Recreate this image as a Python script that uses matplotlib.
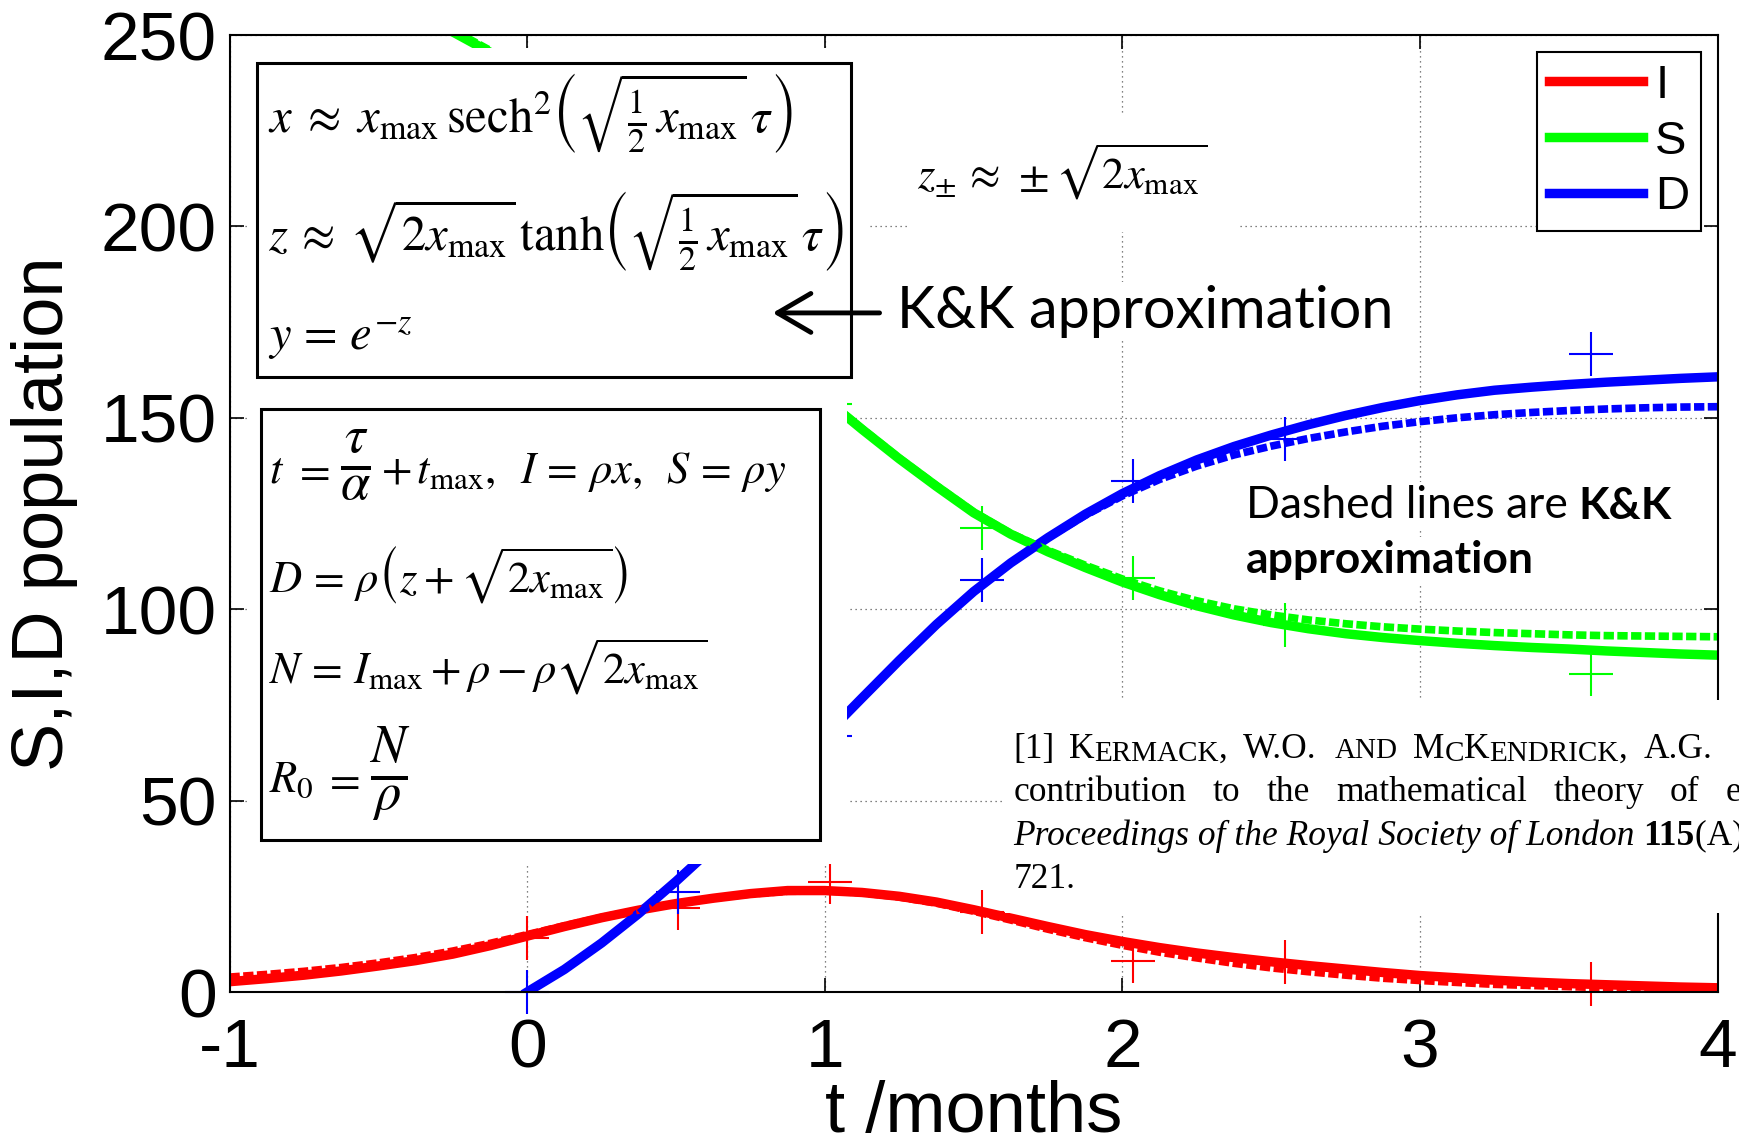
import matplotlib
matplotlib.use('Agg')
import matplotlib.pyplot as plt
from matplotlib.patches import Rectangle
from matplotlib.offsetbox import HPacker, TextArea, AnnotationBbox

plt.rcParams['mathtext.fontset'] = 'stix'
plt.rcParams['axes.unicode_minus'] = False

# time axis in months (model curves)
t = [-1.0, -0.875, -0.75, -0.625, -0.5, -0.375, -0.25, -0.125,
     0.0, 0.125, 0.25, 0.375, 0.5, 0.625, 0.75, 0.875,
     1.0, 1.125, 1.25, 1.375, 1.5, 1.625, 1.75, 1.875,
     2.0, 2.125, 2.25, 2.375, 2.5, 2.625, 2.75, 2.875,
     3.0, 3.125, 3.25, 3.375, 3.5, 3.625, 3.75, 3.875, 4.0]
# infected: numerical solution and K&K approximation
I_model = [2.7, 3.5, 4.4, 5.5, 6.8, 8.2, 9.9, 12.1,
           14.6, 17.1, 19.4, 21.4, 23.1, 24.5, 25.7, 26.5,
           26.5, 26.0, 25.0, 23.5, 21.5, 19.3, 17.1, 15.0,
           13.2, 11.6, 10.2, 9.0, 7.9, 6.9, 6.0, 5.1,
           4.3, 3.7, 3.1, 2.6, 2.2, 1.9, 1.6, 1.3, 1.1]
I_kk = [3.9, 4.6, 5.4, 6.4, 7.6, 9.0, 10.7, 12.7,
        15.0, 17.3, 19.5, 21.4, 23.1, 24.5, 25.6, 26.3,
        26.4, 25.9, 24.8, 23.2, 21.1, 18.8, 16.4, 14.2,
        12.2, 10.4, 8.9, 7.5, 6.3, 5.3, 4.4, 3.6,
        3.0, 2.5, 2.0, 1.7, 1.4, 1.1, 0.9, 0.7, 0.6]
# susceptible
S_model = [268, 266.5, 264.5, 262, 259, 255.5, 250.8, 245.5,
           238.5, 230, 220.5, 210, 199, 187.5, 176, 165,
           155.0, 147.0, 139.3, 132.1, 125.2, 119.6, 115.0, 110.9,
           107.1, 103.8, 100.9, 98.5, 96.5, 94.9, 93.6, 92.6,
           91.8, 91.1, 90.5, 90.0, 89.6, 89.1, 88.7, 88.3, 88.0]
S_kk = [268.5, 267, 265, 262.5, 259.5, 256, 251.3, 246,
        239, 230.5, 221, 210.5, 199.5, 188, 176.5, 165.3,
        155.2, 147.2, 139.5, 132.3, 125.4, 119.8, 115.4, 111.5,
        107.9, 104.8, 102.2, 100.1, 98.5, 97.2, 96.2, 95.4,
        94.8, 94.3, 93.9, 93.6, 93.3, 93.1, 93.0, 92.9, 92.8]
# dead, counted from t = 0
t_d = [0.0, 0.125, 0.25, 0.375, 0.5, 0.625, 0.75, 0.875,
       1.0, 1.125, 1.25, 1.375, 1.5, 1.625, 1.75, 1.875,
       2.0, 2.125, 2.25, 2.375, 2.5, 2.625, 2.75, 2.875,
       3.0, 3.125, 3.25, 3.375, 3.5, 3.625, 3.75, 3.875, 4.0]
D_model = [0, 5.9, 12.8, 20.5, 28.9, 37.8, 47.2, 57.0,
           66.9, 76.8, 86.6, 96.0, 104.6, 112.1, 118.7, 124.8,
           130.2, 134.9, 139.0, 142.5, 145.5, 148.2, 150.6, 152.7,
           154.5, 156.0, 157.2, 158.0, 158.7, 159.3, 159.8, 160.3, 160.7]
D_kk = [0, 5.9, 12.8, 20.5, 28.9, 37.8, 47.2, 57.0,
        66.9, 76.8, 86.6, 96.0, 104.6, 112.1, 118.7, 124.5,
        129.6, 133.9, 137.4, 140.3, 142.6, 144.6, 146.3, 147.8,
        149.0, 150.0, 150.8, 151.4, 151.9, 152.3, 152.6, 152.8, 152.9]

# observed counts
t_obs = [0.0, 0.507, 1.016, 1.529, 2.037, 2.546, 3.575]
I_obs = [14.0, 22.0, 28.7, 21.0, 8.1, 7.9, 2.0]
S_obs = [236.0, 203.0, 153.6, 121.1, 108.2, 96.0, 83.1]
D_obs = [0.0, 26.2, 67.0, 107.5, 133.6, 144.5, 166.7]

fig = plt.figure(figsize=(17.4, 11.45), dpi=100)
ax = fig.add_axes([0.13195, 0.13362, 0.85517, 0.83581])

sans = 'Liberation Sans'
solid_lw = 6.8
dash_lw = 5.5
dash = (0, (1.35, 0.45))
green = (0, 1, 0)

lI, = ax.plot(t, I_model, color='red', lw=solid_lw)
lS, = ax.plot(t, S_model, color=green, lw=solid_lw)
lD, = ax.plot(t_d, D_model, color='blue', lw=solid_lw)
ax.plot(t, I_kk, color='red', lw=dash_lw, ls=dash)
ax.plot(t, S_kk, color=green, lw=dash_lw, ls=dash)
ax.plot(t_d, D_kk, color='blue', lw=dash_lw, ls=dash)

for vals, c in [(I_obs, 'red'), (S_obs, green), (D_obs, 'blue')]:
    ax.plot(t_obs, vals, '+', color=c, ms=32, mew=1.5, clip_on=False)

ax.set_xlim(-1, 4)
ax.set_ylim(0, 250)
ax.set_xticks([-1, 0, 1, 2, 3, 4])
ax.set_yticks([0, 50, 100, 150, 200, 250])
ax.grid(True, color='0.35', lw=0.9, ls=(0, (1, 3)))
ax.tick_params(direction='in', length=10, width=1.2, top=True, right=True,
               labelsize=50)
ax.tick_params(axis='x', pad=18)
ax.tick_params(axis='y', pad=9)
for lab in ax.get_xticklabels() + ax.get_yticklabels():
    lab.set_family(sans)
for sp in ax.spines.values():
    sp.set_linewidth(1.5)

ax.set_xlabel('t /months', fontsize=52, family=sans)
ax.set_ylabel('S,I,D population', fontsize=52, family=sans)
ax.xaxis.label.set_va('baseline')
ax.xaxis.set_label_coords(0.5, -0.146)
ax.yaxis.label.set_va('center')
ax.yaxis.set_label_coords(-0.1247, 0.5)

# white panels behind the formula boxes and the reference
for (x0, y0, w, h) in [(-0.941, 156.0, 2.092, 90.6),
                       (-0.941, 33.4, 2.015, 122.6),
                       (1.282, 198.5, 1.108, 30.6),
                       (1.605, 20.6, 2.6, 55.7)]:
    ax.add_patch(Rectangle((x0, y0), w, h, facecolor='white', edgecolor='none',
                           zorder=3, clip_on=False))
ax.add_patch(Rectangle((-0.907, 160.7), 1.995, 82.0, fill=False,
                       edgecolor='black', lw=2.2, zorder=4))
ax.add_patch(Rectangle((-0.894, 39.7), 1.877, 112.6, fill=False,
                       edgecolor='black', lw=2.2, zorder=4))

eq1 = dict(fontsize=35, ha='left', va='center', zorder=5)
eq2 = dict(fontsize=32, ha='left', va='center', zorder=5)
ax.text(-0.871, 229.6, r'$x \;\approx\; x_{\mathrm{max}}\,\mathrm{sech}^2\left(\sqrt{\frac{1}{2}\,x_{\mathrm{max}}}\,\tau\right)$', **eq1)
ax.text(-0.871, 198.7, r'$z \:\approx\: \sqrt{2x_{\mathrm{max}}}\,\mathrm{tanh}\left(\sqrt{\frac{1}{2}\,x_{\mathrm{max}}}\,\tau\right)$', **eq1)
ax.text(-0.871, 170.8, r'$y \,=\, e^{-z}$', **eq1)
ax.text(-0.869, 108.9, r'$D \,=\, \rho\left(z + \sqrt{2x_{\mathrm{max}}}\right)$', **eq2)
ax.text(-0.869, 84.9, r'$N \,=\, I_{\mathrm{max}} + \rho - \rho\sqrt{2x_{\mathrm{max}}}$', **eq2)
ax.text(1.309, 214.2, r'$z_{\pm} \,\approx\, \pm\sqrt{2x_{\mathrm{max}}}$',
        fontsize=32, ha='left', va='center', zorder=5)


def eq_row(x, y, parts):
    # parts: (mathtext, fontsize); fractions get a larger size so that
    # numerator and denominator come out at full text size
    boxes = [TextArea(s, textprops=dict(fontsize=fs)) for s, fs in parts]
    row = HPacker(children=boxes, align='baseline', pad=0, sep=7)
    ab = AnnotationBbox(row, (x, y), xycoords='data', box_alignment=(0, 0.5),
                        frameon=False, pad=0, zorder=5)
    ax.add_artist(ab)


eq_row(-0.869, 137.7, [(r'$t$', 32), (r'$=$', 32),
                       (r'$\frac{\tau}{\alpha}$', 54),
                       (r'$+\,t_{\mathrm{max}},\;\; I \,=\, \rho x,\;\; S \,=\, \rho y$', 32)])
eq_row(-0.869, 56.7, [(r'$R_0$', 32), (r'$=$', 32), (r'$\frac{N}{\rho}$', 54)])

calibri = 'Lato'
ax.text(1.242, 173.5, 'K&K approximation', fontsize=41.5, family=calibri,
        ha='left', va='baseline', zorder=5,
        bbox=dict(facecolor='white', edgecolor='none', pad=2))
ax.annotate('', xy=(0.825, 177.4), xytext=(1.184, 177.4), zorder=6,
            arrowprops=dict(arrowstyle='->,head_length=0.6,head_width=0.35',
                            lw=3.5, color='black', mutation_scale=40,
                            shrinkA=0, shrinkB=0))

d1 = ax.text(2.414, 123.8, 'Dashed lines are', fontsize=32, family=calibri,
             ha='left', va='baseline', zorder=5,
             bbox=dict(facecolor='white', edgecolor='none', pad=2))
ax.annotate('K&K', xy=(1, 0), xycoords=d1, xytext=(8, 0),
            textcoords='offset points', fontsize=32, family=calibri,
            fontweight='bold', va='bottom', zorder=5)
ax.text(2.414, 109.5, 'approximation', fontsize=32, family=calibri,
        fontweight='bold', ha='left', va='baseline', zorder=5,
        bbox=dict(facecolor='white', edgecolor='none', pad=2))

# reference, set word by word as a justified block
serif = 'Liberation Serif'
big, small = 25.5, 21.0


def word(x, y, pieces):
    prev = None
    for txt, sz, style, weight in pieces:
        kw = dict(fontsize=sz, family=serif, style=style, weight=weight,
                  zorder=5, clip_on=False)
        if prev is None:
            prev = ax.text(x, y, txt, ha='left', va='baseline', **kw)
        else:
            drop = -0.217 * (prev.get_fontsize() - sz)
            prev = ax.annotate(txt, xy=(1, 0), xycoords=prev,
                               xytext=(0, drop), textcoords='offset points',
                               ha='left', va='bottom', **kw)
    return prev


def n(s, sz=big):
    return (s, sz, 'normal', 'normal')


y1, y2, y3, y4 = 61.1, 49.9, 38.5, 27.2
word(1.633, y1, [n('[1]')])
word(1.821, y1, [n('K'), n('ERMACK', small), n(',')])
word(2.406, y1, [n('W.O.')])
word(2.714, y1, [n('AND', small)])
word(2.977, y1, [n('M'), n('C', small), n('K'), n('ENDRICK', small), n(',')])
word(3.751, y1, [n('A.G.')])

for x, w in [(1.633, 'contribution'), (2.302, 'to'), (2.485, 'the'),
             (2.718, 'mathematical'), (3.448, 'theory'), (3.840, 'of'),
             (4.028, 'epidemics.')]:
    word(x, y2, [n(w)])

word(1.633, y3, [('Proceedings of the Royal Society of London', big,
                  'italic', 'normal')])
word(3.751, y3, [('115', big, 'normal', 'bold'), n('(A), 700\u2013')])
word(1.633, y4, [n('721.')])

leg = ax.legend([lI, lS, lD], ['I', 'S', 'D'], loc='upper right',
                bbox_to_anchor=(0.9889, 0.9822), borderaxespad=0,
                fancybox=False, framealpha=1, edgecolor='black',
                prop={'family': sans, 'size': 34}, handlelength=2.0,
                handletextpad=0.25, labelspacing=0.25, borderpad=0.25)
leg.get_frame().set_linewidth(1.5)
leg.set_zorder(7)

fig.savefig('out.png', dpi=100, facecolor='white')
